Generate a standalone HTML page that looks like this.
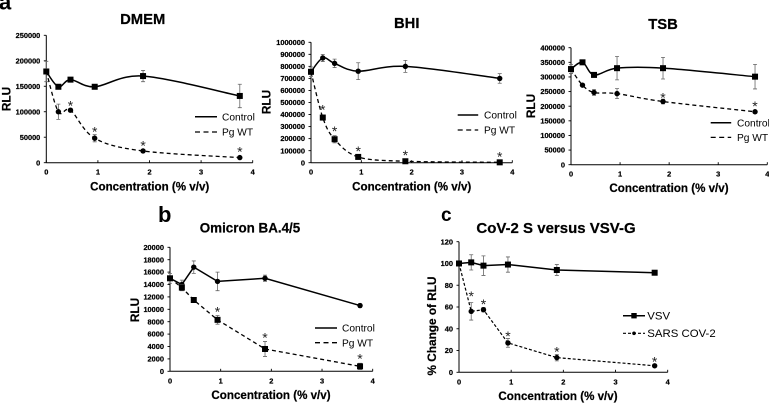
<!DOCTYPE html>
<html><head><meta charset="utf-8">
<style>
html,body{margin:0;padding:0;background:#fff;width:769px;height:403px;overflow:hidden}
svg{display:block;filter:blur(0.35px)}
text{font-family:"Liberation Sans",sans-serif;fill:#000}
.heavy{stroke:#000;stroke-width:0.22px}
</style></head>
<body>
<svg id="fig" width="769" height="403" viewBox="0 0 769 403" xmlns="http://www.w3.org/2000/svg">
<rect width="769" height="403" fill="#fff"/>
<text x="-1" y="9.5" font-size="22" font-weight="bold">a</text>
<text x="158" y="222" font-size="22" font-weight="bold">b</text>
<text x="441" y="221" font-size="19" font-weight="bold">c</text>
</svg>
<script>
var concentrations = [0, 0.234, 0.469, 0.938, 1.875, 3.75];
var xTicks = [0, 1, 2, 3, 4];

var dmemYTicks = [0, 50000, 100000, 150000, 200000, 250000];
var dmemControl = [179000, 149000, 163000, 149000, 170000, 131000];
var dmemControlErr = [0, 3000, 4000, 4000, 11000, 23000];
var dmemPg = [179000, 100000, 103000, 48000, 23000, 10000];
var dmemPgErr = [20000, 15000, 3000, 7000, 3000, 2000];
var dmemStars = [null, null, 117000, 66000, 39000, 27000];

var bhiYTicks = [0, 100000, 200000, 300000, 400000, 500000, 600000, 700000, 800000, 900000, 1000000];
var bhiControl = [755000, 870000, 825000, 760000, 800000, 700000];
var bhiControlErr = [20000, 30000, 35000, 70000, 50000, 40000];
var bhiPg = [755000, 375000, 195000, 48000, 12000, 3000];
var bhiPgErr = [40000, 20000, 30000, 10000, 5000, 3000];
var bhiStars = [null, 465000, 286000, 120000, 86000, 75000];

var tsbYTicks = [0, 50000, 100000, 150000, 200000, 250000, 300000, 350000, 400000];
var tsbControl = [327000, 350000, 307000, 330000, 330000, 301000];
var tsbControlErr = [15000, 5000, 8000, 40000, 37000, 42000];
var tsbPg = [327000, 272000, 247000, 243000, 216000, 181000];
var tsbPgErr = [0, 5000, 10000, 17000, 8000, 3000];
var tsbStars = [null, null, null, null, 239000, 210000];

var omicronYTicks = [0, 2000, 4000, 6000, 8000, 10000, 12000, 14000, 16000, 18000, 20000];
var omicronControl = [15000, 14000, 16800, 14500, 15000, 10600];
var omicronControlErr = [800, 700, 1000, 1500, 500, 300];
var omicronPg = [15000, 13500, 11500, 8300, 3600, 800];
var omicronPgErr = [0, 500, 400, 700, 1200, 500];
var omicronStars = [null, null, null, 10050, 5850, 2520];

var covYTicks = [0, 20, 40, 60, 80, 100, 120];
var vsvValues = [100, 101, 98, 99, 94, 91.5];
var vsvErr = [0, 7, 9, 7, 5, 1];
var sarsValues = [100, 56, 57.5, 27, 13.5, 6];
var sarsErr = [0, 8, 2, 4, 3, 1];
var covStars = [null, 72.5, 65, 35.8, 21.4, 12.2];

var svg = document.getElementById('fig');
var NS = 'http://www.w3.org/2000/svg';

function make(tag, attrs, parent) {
  var n = document.createElementNS(NS, tag);
  for (var k in attrs) n.setAttribute(k, attrs[k]);
  parent.appendChild(n);
  return n;
}
function smoothPath(p) {
  var d = 'M' + p[0][0] + ' ' + p[0][1];
  for (var i = 0; i < p.length - 1; i++) {
    var a = p[Math.max(i - 1, 0)], b = p[i], c = p[i + 1], e = p[Math.min(i + 2, p.length - 1)];
    d += ' C' + (b[0] + (c[0] - a[0]) / 6) + ' ' + (b[1] + (c[1] - a[1]) / 6) + ' ' +
      (c[0] - (e[0] - b[0]) / 6) + ' ' + (c[1] - (e[1] - b[1]) / 6) + ' ' + c[0] + ' ' + c[1];
  }
  return d;
}
function straightPath(p) {
  return p.map(function (q, i) { return (i ? 'L' : 'M') + q[0] + ' ' + q[1]; }).join(' ');
}
function drawMarker(g, shape, x, y, size) {
  var m;
  if (shape === 'square') {
    m = make('rect', { x: x - size / 2, y: y - size / 2, width: size, height: size, fill: '#000' }, g);
  } else {
    m = make('circle', { cx: x, cy: y, r: size / 2, fill: '#000' }, g);
  }
  return m;
}
function drawSeries(g, s, sx, sy) {
  var pts = s.values.map(function (v, i) { return [sx(concentrations[i]), sy(v)]; });
  s.values.forEach(function (v, i) {
    if (!s.errors[i]) return;
    var x = sx(concentrations[i]), t = sy(v + s.errors[i]), b = sy(v - s.errors[i]);
    var bar = make('path', { d: 'M' + x + ' ' + t + 'V' + b + 'M' + (x - 2) + ' ' + t + 'H' + (x + 2) + 'M' + (x - 2) + ' ' + b + 'H' + (x + 2), stroke: '#666', 'stroke-width': 0.8, fill: 'none' }, g);
    
    
  });
  var line = make('path', { d: s.smooth ? smoothPath(pts) : straightPath(pts), fill: 'none', stroke: '#000', 'stroke-width': s.width, 'stroke-dasharray': s.dash || 'none' }, g);
  
  
  pts.forEach(function (p) {
    var m = drawMarker(g, s.shape, p[0], p[1], s.shape === 'square' ? 6 : 5.4);
    
    
  });
}
function drawPanel(c) {
  var g = make('g', {}, svg);
  
  
  var yMax = c.yTicks[c.yTicks.length - 1];
  function sx(v) { return c.x0 + (c.x4 - c.x0) * v / 4; }
  function sy(v) { return c.y0 + (c.yTop - c.y0) * v / yMax; }

  var xAxis = make('line', { x1: c.x0, x2: c.x4, y1: c.y0, y2: c.y0, stroke: '#000', 'stroke-width': 1 }, g);
  
  
  var yAxis = make('line', { x1: c.x0, x2: c.x0, y1: c.y0, y2: c.yTop, stroke: '#000', 'stroke-width': 1 }, g);
  
  

  xTicks.forEach(function (t) {
    var tick = make('line', { x1: sx(t), x2: sx(t), y1: c.y0 - 2.5, y2: c.y0, stroke: '#000', 'stroke-width': 0.9 }, g);
    
    
    var lab = make('text', { x: sx(t), y: c.y0 + 12, 'font-size': 7.4, 'font-weight': 'bold', 'text-anchor': 'middle', 'class': 'heavy' }, g);
    lab.textContent = String(t);
    
    
  });
  c.yTicks.forEach(function (t) {
    var tick = make('line', { x1: c.x0 - 2.5, x2: c.x0, y1: sy(t), y2: sy(t), stroke: '#000', 'stroke-width': 0.9 }, g);
    
    
    var lab = make('text', { x: c.x0 - 6, y: sy(t) + 2.6, 'font-size': 7.4, 'font-weight': 'bold', 'text-anchor': 'end', 'class': 'heavy' }, g);
    lab.textContent = String(t);
    
    
  });

  c.series.forEach(function (s) { drawSeries(g, s, sx, sy); });

  c.stars.forEach(function (v, i) {
    if (v === null) return;
    var st = make('text', { x: sx(concentrations[i]), y: sy(v) + 7.6, 'font-size': 14, 'text-anchor': 'middle', style: 'fill:#222' }, g);
    st.textContent = '*';
    
    
  });

  var title = make('text', { x: c.titleX, y: c.titleY, 'font-size': c.titleSize, 'font-weight': 'bold', 'text-anchor': 'middle', 'class': 'heavy' }, g);
  title.textContent = c.title;
  
  

  var xt = make('text', { x: c.xTitleX, y: c.xTitleY, 'font-size': 11.6, 'font-weight': 'bold', 'text-anchor': 'middle', 'class': 'heavy' }, g);
  xt.textContent = 'Concentration (% v/v)';
  
  

  var yt = make('text', { transform: 'translate(' + c.yTitleX + ' ' + c.yTitleY + ') rotate(-90)', 'font-size': 11.8, 'font-weight': 'bold', 'text-anchor': 'middle', 'class': 'heavy' }, g);
  yt.textContent = c.yTitle;
  
  

  c.series.forEach(function (s, i) {
    var ly = c.legY + i * c.legGap;
    var ll = make('line', { x1: c.legX, x2: c.legX + c.legLen, y1: ly, y2: ly, stroke: '#000', 'stroke-width': s.width, 'stroke-dasharray': s.legDash || 'none' }, g);
    
    
    if (c.legMarkers) {
      var lm = drawMarker(g, s.shape, c.legX + c.legLen / 2, ly, s.shape === 'square' ? 5.4 : 3.6);
      
      
    }
    var lt = make('text', { x: c.legTextX, y: ly + 3.6, 'font-size': c.legSize }, g);
    lt.textContent = s.label;
    
    
  });
}

drawPanel({ key: 'dmem', title: 'DMEM', titleSize: 14.8, titleX: 142.7, titleY: 24, x0: 46.3, x4: 252.7, y0: 162.7, yTop: 35.3,
  yTicks: dmemYTicks, stars: dmemStars, yTitle: 'RLU', xTitleX: 149.7, xTitleY: 190.5, yTitleX: 10.5, yTitleY: 99,
  legX: 195, legLen: 22, legY: 116.7, legGap: 15.3, legTextX: 222, legSize: 10.2,
  series: [
    { key: 'control', label: 'Control', values: dmemControl, errors: dmemControlErr, shape: 'square', smooth: true, width: 1.5 },
    { key: 'pg-wt', label: 'Pg WT', values: dmemPg, errors: dmemPgErr, shape: 'circle', smooth: true, width: 1.3, dash: '4 3', legDash: '5 3.5' }
  ] });
drawPanel({ key: 'bhi', title: 'BHI', titleSize: 14.8, titleX: 406.7, titleY: 28, x0: 311, x4: 512.3, y0: 162.7, yTop: 42.3,
  yTicks: bhiYTicks, stars: bhiStars, yTitle: 'RLU', xTitleX: 411.7, xTitleY: 190.5, yTitleX: 270.7, yTitleY: 102,
  legX: 457.7, legLen: 20.5, legY: 115, legGap: 15, legTextX: 484, legSize: 10.2,
  series: [
    { key: 'control', label: 'Control', values: bhiControl, errors: bhiControlErr, shape: 'circle', smooth: true, width: 1.5 },
    { key: 'pg-wt', label: 'Pg WT', values: bhiPg, errors: bhiPgErr, shape: 'square', smooth: true, width: 1.3, dash: '4 3', legDash: '5 3.5' }
  ] });
drawPanel({ key: 'tsb', title: 'TSB', titleSize: 14.8, titleX: 663, titleY: 29, x0: 571, x4: 767.3, y0: 164.7, yTop: 47.7,
  yTicks: tsbYTicks, stars: tsbStars, yTitle: 'RLU', xTitleX: 669, xTitleY: 192, yTitleX: 535, yTitleY: 106,
  legX: 710.7, legLen: 20.5, legY: 122.7, legGap: 14.7, legTextX: 737, legSize: 10.2,
  series: [
    { key: 'control', label: 'Control', values: tsbControl, errors: tsbControlErr, shape: 'square', smooth: true, width: 1.5 },
    { key: 'pg-wt', label: 'Pg WT', values: tsbPg, errors: tsbPgErr, shape: 'circle', smooth: true, width: 1.3, dash: '4 3', legDash: '5 3.5' }
  ] });
drawPanel({ key: 'omicron', title: 'Omicron BA.4/5', titleSize: 13.4, titleX: 250, titleY: 232.7, x0: 170, x4: 372.7, y0: 371.3, yTop: 247.3,
  yTicks: omicronYTicks, stars: omicronStars, yTitle: 'RLU', xTitleX: 271, xTitleY: 399, yTitleX: 139, yTitleY: 310,
  legX: 315, legLen: 22, legY: 328, legGap: 14.7, legTextX: 342, legSize: 10.2,
  series: [
    { key: 'control', label: 'Control', values: omicronControl, errors: omicronControlErr, shape: 'circle', smooth: false, width: 1.5 },
    { key: 'pg-wt', label: 'Pg WT', values: omicronPg, errors: omicronPgErr, shape: 'square', smooth: false, width: 1.3, dash: '4 3', legDash: '5 3.5' }
  ] });
drawPanel({ key: 'cov', title: 'CoV-2 S versus VSV-G', titleSize: 15, titleX: 556, titleY: 233, x0: 459, x4: 667.7, y0: 372.3, yTop: 241.7,
  yTicks: covYTicks, stars: covStars, yTitle: '% Change of RLU', xTitleX: 558, xTitleY: 400, yTitleX: 436, yTitleY: 326,
  legX: 623, legLen: 22, legY: 315.7, legGap: 17.6, legTextX: 647.3, legSize: 11.4, legMarkers: true,
  series: [
    { key: 'vsv', label: 'VSV', values: vsvValues, errors: vsvErr, shape: 'square', smooth: false, width: 1.5 },
    { key: 'sars-cov-2', label: 'SARS COV-2', values: sarsValues, errors: sarsErr, shape: 'circle', smooth: false, width: 1.2, dash: '3 2', legDash: '3 2' }
  ] });
</script>
</body></html>
